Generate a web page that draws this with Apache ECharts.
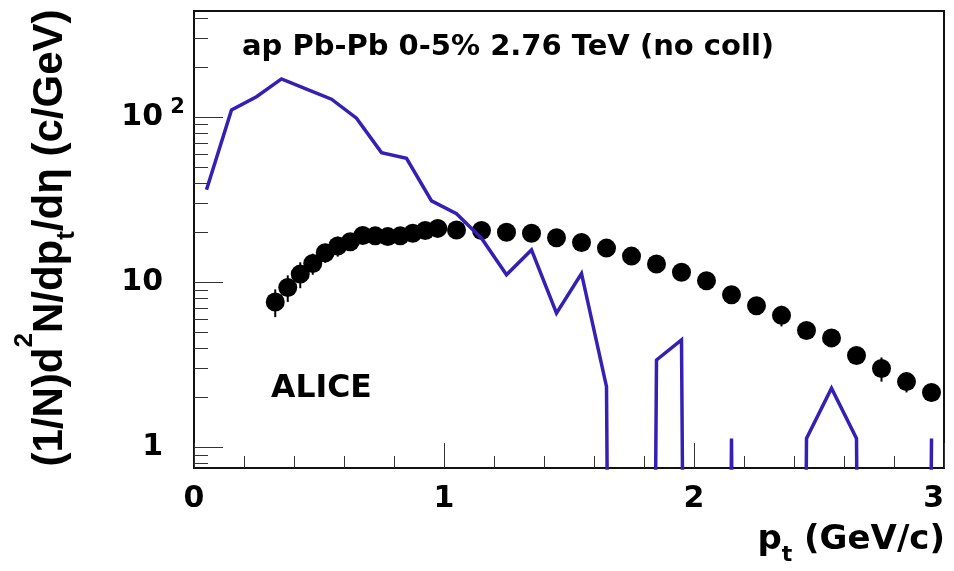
<!DOCTYPE html>
<html><head><meta charset="utf-8">
<script src="https://cdn.jsdelivr.net/npm/echarts@6/dist/echarts.min.js"></script>
<style>html,body{margin:0;padding:0;background:#fff}#c{width:954px;height:571px}</style>
</head><body><div id="c"></div>
<script>
// ALICE antiproton data points (pt centres, yields, errors)
const dataPt  = [0.325,0.375,0.425,0.475,0.525,0.575,0.625,0.675,0.725,0.775,0.825,0.875,0.925,0.975,
                 1.05,1.15,1.25,1.35,1.45,1.55,1.65,1.75,1.85,1.95,2.05,2.15,2.25,2.35,2.45,2.55,2.65,2.75,2.85,2.95];
const dataVal = [7.6,9.3,11.2,13.0,15.1,16.6,17.6,19.2,19.1,18.9,19.1,19.8,20.6,21.2,
                 20.7,20.6,20.1,19.8,18.6,17.4,16.1,14.4,12.9,11.5,10.2,8.4,7.2,6.3,5.1,4.6,3.6,3.0,2.5,2.15];
const dataErr = [1.45,1.7,2.0,1.9,2.0,2.3,1.9,1.8,1.8,2.0,2.1,1.9,1.9,1.9,
                 1.5,1.5,1.5,1.9,1.5,1.4,1.3,1.2,1.1,1.0,0.9,0.8,0.7,0.9,0.5,0.45,0.4,0.5,0.35,0.25];
// Model histogram (bin centres, contents; 0 = empty bin)
const simPt  = [0.05,0.15,0.25,0.35,0.45,0.55,0.65,0.75,0.85,0.95,1.05,1.15,1.25,1.35,1.45,1.55,1.65,1.75,1.85,1.95,
                2.05,2.15,2.25,2.35,2.45,2.55,2.65,2.75,2.85,2.95];
const simVal = [36.3,110.7,133,170.6,147.8,128.5,98.6,61,56.4,31.1,26,18.5,11.1,15.7,6.5,11.3,2.33,0,3.38,4.47,
                0,1.13,0,0,1.13,2.28,1.13,0,0,1.13];
// Tick values
const xTickLabels = [0,1,2,3];
const yMajorTicks = [1,10,100];
const yMinorTicks = [0.8,0.9,2,3,4,5,6,7,8,9,20,30,40,50,60,70,80,90,200,300,400];

const Y_MIN = 0.749, Y_MAX = 440;
const EMPTY_FLOOR = 1e-20; // empty bins drop below the frame on the log axis
const FONT = 'DejaVu Sans';
const BLUE = '#3420b4';

const chart = echarts.init(document.getElementById('c'), null, {renderer: 'canvas'});

const errData = dataPt.map((x, i) => [x, dataVal[i], dataErr[i]]);
const ptsData = dataPt.map((x, i) => [x, dataVal[i]]);
const simData = simPt.map((x, i) => [x, simVal[i] > 0 ? simVal[i] : EMPTY_FLOOR]);

const option = {
  animation: false,
  backgroundColor: '#ffffff',
  grid: {left: 194, right: 10, top: 11, bottom: 103, show: true, borderColor: '#111', borderWidth: 2,
         backgroundColor: 'transparent', outerBoundsMode: 'none', containLabel: false},
  xAxis: {
    type: 'value', min: 0, max: 3, interval: 1,
    axisLine: {show: true, onZero: false, lineStyle: {color: '#111', width: 2}},
    axisTick: {show: true, inside: true, length: 25, lineStyle: {color: '#333', width: 1}},
    minorTick: {show: true, splitNumber: 5, length: 12, lineStyle: {color: '#333', width: 1}},
    splitLine: {show: false}, minorSplitLine: {show: false},
    axisLabel: {show: true, customValues: xTickLabels, margin: 16, fontFamily: FONT, fontWeight: 'bold',
                fontSize: 30, color: '#000', alignMaxLabel: 'right'}
  },
  yAxis: [{
    type: 'log', logBase: 10, min: Y_MIN, max: Y_MAX, position: 'left',
    axisLine: {show: true, lineStyle: {color: '#111', width: 2}},
    axisTick: {show: true, inside: true, length: 29, customValues: yMajorTicks, lineStyle: {color: '#333', width: 1}},
    minorTick: {show: false}, splitLine: {show: false},
    axisLabel: {
      show: true, customValues: yMajorTicks, margin: 31, color: '#000',
      formatter: function (v) {
        const r = Math.round(v);
        return r === 100 ? '{n|10}{s| 2}' : '{n|' + r + '}';
      },
      rich: {
        n: {fontFamily: FONT, fontWeight: 'bold', fontSize: 30, color: '#000', align: 'left'},
        s: {fontFamily: FONT, fontWeight: 'bold', fontSize: 21, color: '#000', width: 0, align: 'left', padding: [0, 0, 20, 0]}
      }
    }
  }, {
    type: 'log', logBase: 10, min: Y_MIN, max: Y_MAX, position: 'left',
    axisLine: {show: false},
    axisTick: {show: true, inside: true, length: 14, customValues: yMinorTicks, lineStyle: {color: '#333', width: 1}},
    axisLabel: {show: false}, splitLine: {show: false}, minorTick: {show: false}
  }],
  graphic: [
    {type: 'text', x: 242, y: 47, z: 10, style: {text: 'ap Pb-Pb 0-5% 2.76 TeV (no coll)', fontFamily: FONT,
      fontWeight: 'bold', fontSize: 29, fill: '#000', align: 'left', verticalAlign: 'middle'}},
    {type: 'text', x: 271, y: 389, z: 10, style: {text: 'ALICE', fontFamily: FONT, fontWeight: 'bold',
      fontSize: 31.5, fill: '#000', align: 'left', verticalAlign: 'middle'}},
    {type: 'text', x: 945, y: 540, z: 10, style: {text: 'p{sub|t} (GeV/c)', fontFamily: FONT, fontWeight: 'bold',
      fontSize: 34, fill: '#000', align: 'right', verticalAlign: 'middle',
      rich: {sub: {fontFamily: FONT, fontWeight: 'bold', fontSize: 22, fill: '#000', padding: [30, 0, 0, 0]}}}},
    {type: 'text', x: 50, y: 238, rotation: Math.PI / 2, z: 10, style: {
      text: '(1/N)d{sup|2}N/dp{sub|t}/dη (c/GeV)', fontFamily: 'Liberation Sans', fontWeight: 'bold',
      fontSize: 42, fill: '#000', align: 'center', verticalAlign: 'middle',
      rich: {
        sup: {fontFamily: 'Liberation Sans', fontWeight: 'bold', fontSize: 26, fill: '#000', padding: [0, 0, 50, 0]},
        sub: {fontFamily: 'Liberation Sans', fontWeight: 'bold', fontSize: 26, fill: '#000', padding: [34, 0, 0, 0]}
      }}}
  ],
  series: [
    {
      type: 'custom', name: 'errors', xAxisIndex: 0, yAxisIndex: 0, z: 2, clip: true,
      data: errData,
      renderItem: function (params, api) {
        const x = api.value(0), y = api.value(1), e = api.value(2);
        const p1 = api.coord([x, y - e]);
        const p2 = api.coord([x, y + e]);
        return {type: 'line', shape: {x1: p1[0], y1: p1[1], x2: p2[0], y2: p2[1]},
                style: {stroke: '#000', lineWidth: 2}};
      }
    },
    {
      type: 'scatter', name: 'ALICE', xAxisIndex: 0, yAxisIndex: 0, z: 3,
      symbol: 'circle', symbolSize: 19, itemStyle: {color: '#000', opacity: 1}, data: ptsData
    },
    {
      type: 'line', name: 'model', xAxisIndex: 0, yAxisIndex: 0, z: 4, clip: true,
      showSymbol: false, symbol: 'none', smooth: false,
      lineStyle: {color: BLUE, width: 3.5, join: 'miter', opacity: 1}, data: simData
    }
  ]
};
chart.setOption(option);
</script>
</body></html>
